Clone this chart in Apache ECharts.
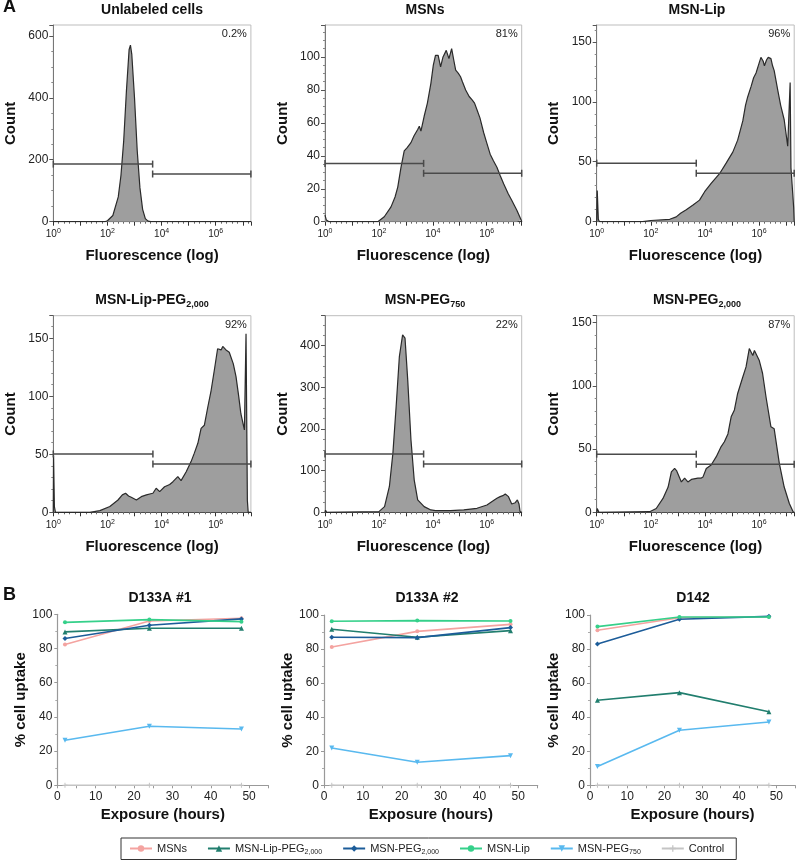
<!DOCTYPE html>
<html><head><meta charset="utf-8">
<script src="https://cdn.jsdelivr.net/npm/echarts@6/dist/echarts.min.js"></script>
<style>html,body{margin:0;padding:0;background:#fff}#c{width:798px;height:862px}</style>
</head><body><div id="c"></div><script>
const FONT = '"Liberation Sans", Arial, sans-serif';

// ---------- Panel A data: x = log10(fluorescence), y = count ----------
const histUnlabeled = [[0,0],[1.9,0],[2.0,3],[2.2,20],[2.4,80],[2.5,150],[2.6,260],[2.7,420],[2.8,555],[2.85,570],[2.9,540],[3.0,400],[3.1,230],[3.2,110],[3.3,40],[3.4,10],[3.5,2],[3.6,0],[7.3,0]];
const histMSNs = [[0,4],[0.05,1],[0.15,0],[1.96,0],[2.2,3],[2.45,9],[2.6,15],[2.7,21],[2.82,33],[2.94,43],[3.05,45],[3.19,48],[3.3,52],[3.44,56],[3.5,58],[3.56,55],[3.68,64],[3.8,72],[3.93,84],[4.02,95],[4.1,101],[4.2,101],[4.29,94],[4.38,100],[4.5,104],[4.6,99],[4.7,105],[4.78,98],[4.85,92],[4.95,90],[5.03,88],[5.1,85],[5.15,84],[5.22,80],[5.28,80],[5.35,76],[5.46,74],[5.55,72],[5.64,68],[5.75,63],[5.89,54],[6.0,48],[6.13,41],[6.25,37],[6.38,33],[6.5,28],[6.63,23],[6.8,17],[6.93,13],[7.12,7],[7.28,1],[7.3,0]];
const histLip = [[0,0],[0.02,26],[0.06,2],[0.1,0],[1.7,0],[2.0,1],[2.7,2],[2.94,4],[3.1,7],[3.31,10],[3.56,14],[3.8,18],[3.99,25],[4.23,32],[4.54,40],[4.79,49],[5.03,58],[5.21,68],[5.4,84],[5.5,97],[5.58,104],[5.71,113],[5.8,120],[5.89,124],[6.0,132],[6.07,137],[6.15,134],[6.2,130],[6.28,135],[6.34,137],[6.44,136],[6.5,130],[6.56,126],[6.69,110],[6.8,97],[6.93,85],[7.06,63],[7.13,62],[7.15,116],[7.17,116],[7.18,45],[7.28,12],[7.3,0]];
const histLipPEG2000 = [[0,0],[0.01,49],[0.04,5],[0.08,0],[1.35,0],[1.72,1.4],[2.09,5],[2.39,10.6],[2.55,15],[2.67,16.4],[2.78,14],[2.88,13],[3.07,10.6],[3.25,13.5],[3.44,15],[3.6,16],[3.68,16.4],[3.8,20.7],[3.93,17.8],[4.11,22],[4.3,24],[4.42,26.4],[4.6,30.7],[4.72,27.3],[4.91,35],[5.09,43.7],[5.21,51],[5.34,59.5],[5.46,72.4],[5.58,75],[5.71,91],[5.83,105],[5.95,122.7],[6.07,141],[6.13,142],[6.2,140],[6.26,143],[6.32,144],[6.38,140],[6.44,140],[6.5,138],[6.56,138.5],[6.65,128],[6.75,117],[6.85,100],[6.93,85],[7.06,71],[7.1,70],[7.12,154],[7.15,154],[7.17,10],[7.2,0],[7.3,0]];
const histPEG750 = [[0,0],[0.02,5],[0.06,0],[2.0,1.6],[2.21,13.6],[2.39,62],[2.52,142],[2.64,254],[2.76,374],[2.88,426],[2.93,428],[2.97,418],[3.07,318],[3.19,174],[3.31,78],[3.44,30],[3.68,13.6],[3.93,5.6],[4.1,4],[4.17,6],[4.25,4],[4.66,4],[5.15,5.6],[5.64,9.6],[6.01,17.6],[6.2,26],[6.26,30],[6.38,33.6],[6.5,37.6],[6.6,40],[6.69,44],[6.75,42],[6.81,37.6],[6.93,20],[7.06,23],[7.14,29.6],[7.2,20],[7.24,1.6],[7.3,0]];
const histPEG2000 = [[0,0],[0.02,3],[0.08,0],[1.96,0.5],[2.2,3],[2.45,11],[2.64,20],[2.76,32],[2.88,34.7],[2.95,33],[3.0,32],[3.13,24],[3.25,27],[3.37,24],[3.5,26],[3.56,27],[3.74,27],[3.85,27],[3.93,28],[4.05,34.7],[4.23,37.4],[4.42,44],[4.6,52],[4.72,55.8],[4.85,62],[4.97,75.5],[5.09,81],[5.21,94],[5.4,107],[5.52,115],[5.64,129.5],[5.7,128],[5.77,124],[5.83,128],[5.89,128],[6.01,120],[6.13,110],[6.26,91],[6.44,67.6],[6.5,67],[6.56,66],[6.75,38.7],[6.93,20],[7.12,7],[7.26,0.5],[7.3,0]];

// gates: [left gate count level, right gate count level, split position (log10)]
const gateUnlabeled = [186, 154, 3.67];
const gateMSNs = [35.4, 29.4, 3.66];
const gateLip = [48.8, 40.4, 3.68];
const gateLipPEG2000 = [50.3, 41.7, 3.68];
const gatePEG750 = [140, 116, 3.66];
const gatePEG2000 = [46, 38, 3.68];

const histTitles = ['Unlabeled cells', 'MSNs', 'MSN-Lip', 'MSN-Lip-PEG{s|2,000}', 'MSN-PEG{s|750}', 'MSN-PEG{s|2,000}'];
const pctLabels = ['0.2%', '81%', '96%', '92%', '22%', '87%'];
const histYMax = [635, 119.4, 164, 169.5, 472, 155.5];
const histYInterval = [200, 20, 50, 50, 100, 50];
const xTickExponents = [0, 2, 4, 6];

// ---------- Panel B data ----------
const lineTitles = ['D133A #1', 'D133A #2', 'D142'];
const hours = [2, 24, 48];
const seriesNames = ['MSNs', 'MSN-Lip-PEG2,000', 'MSN-PEG2,000', 'MSN-Lip', 'MSN-PEG750', 'Control'];
const uptakeMSNs = [[82.3, 96.1, 97.7], [81.2, 90.4, 94.5], [91.0, 98.4, 99.0]];
const uptakeLipPEG2000 = [[89.7, 91.8, 91.8], [91.6, 86.9, 90.8], [49.9, 54.4, 43.2]];
const uptakePEG2000 = [[85.8, 93.6, 97.3], [86.9, 86.7, 92.6], [83.0, 97.5, 99.2]];
const uptakeLip = [[95.3, 96.9, 95.7], [96.3, 96.7, 96.5], [93.2, 98.8, 98.8]];
const uptakePEG750 = [[26.3, 34.5, 32.9], [21.9, 13.5, 17.4], [11.0, 32.3, 37.2]];
const uptakeControl = [[0, 0, 0], [0, 0, 0], [0, 0, 0]];

// ---------- layout / style ----------
const histData = [histUnlabeled, histMSNs, histLip, histLipPEG2000, histPEG750, histPEG2000];
const gateData = [gateUnlabeled, gateMSNs, gateLip, gateLipPEG2000, gatePEG750, gatePEG2000];
const histGrids = [
  {left: 53.3, top: 25, width: 197.6, height: 196.7},
  {left: 325, top: 25, width: 196.7, height: 196.7},
  {left: 596.7, top: 25, width: 197.5, height: 196.7},
  {left: 53.3, top: 315.7, width: 197.6, height: 196.6},
  {left: 325, top: 315.7, width: 196.7, height: 196.6},
  {left: 596.7, top: 315.7, width: 197.5, height: 196.6}
];
const histMinorSplit = [4, 4, 5, 5, 4, 5];
const histTitlePos = [[152, 10], [425, 10], [697, 10], [152, 300], [425, 300], [697, 300]];
const lineGrids = [
  {left: 57.3, top: 614.3, width: 211, height: 171},
  {left: 324, top: 615, width: 213.7, height: 170.3},
  {left: 590, top: 615, width: 207, height: 170.3}
];
const lineTitlePos = [[160, 598], [427, 598], [693, 598]];
const uptakeAll = [uptakeMSNs, uptakeLipPEG2000, uptakePEG2000, uptakeLip, uptakePEG750, uptakeControl];
const colors = ['#f4a3a0', '#217e6e', '#1c5c99', '#35d08a', '#59b9ef', '#c4c4c4'];
const symbols = ['circle', 'triangle', 'diamond', 'circle', 'path://M0,0 L10,0 L5,10 Z',
  'path://M4,0 H6 V4 H10 V6 H6 V10 H4 V6 H0 V4 H4 Z'];
const symbolSizes = [4, 5, 5, 4, 5, 5];

const grid = [], xAxis = [], yAxis = [], series = [], graphic = [];

function richTitle(t) {
  return t.indexOf('{s|') >= 0 ? '{t|' + t.replace('{s|', '}{s|') : '{t|' + t + '}';
}

histGrids.forEach((g, i) => {
  grid.push(Object.assign({show: true, borderColor: '#bdbdbd', borderWidth: 1, backgroundColor: 'transparent'}, g));
  xAxis.push({
    type: 'value', gridIndex: i, min: 0, max: 7.3, interval: 1,
    name: 'Fluorescence (log)', nameLocation: 'middle', nameGap: 27,
    nameTextStyle: {fontFamily: FONT, fontSize: 15, fontWeight: 'bold', color: '#111'},
    axisLine: {show: true, onZero: false, lineStyle: {color: '#333', width: 1}},
    axisTick: {show: true, length: 4, lineStyle: {color: '#333'}},
    minorTick: {show: true, splitNumber: 5, length: 2, lineStyle: {color: '#666'}},
    splitLine: {show: false},
    axisLabel: {
      margin: 6, color: '#222', fontFamily: FONT,
      formatter: v => {
        const r = Math.round(v);
        if (Math.abs(v - r) > 1e-6 || xTickExponents.indexOf(r) < 0) return '';
        return '{b|10}{p|' + r + '}';
      },
      rich: {b: {fontSize: 10, lineHeight: 14, fontFamily: FONT, color: '#222'},
             p: {fontSize: 7, lineHeight: 7, verticalAlign: 'top', fontFamily: FONT, color: '#222'}}
    }
  });
  const yi = histYInterval[i];
  yAxis.push({
    type: 'value', gridIndex: i, min: 0, max: histYMax[i], interval: yi,
    name: 'Count', nameLocation: 'middle', nameGap: 35,
    nameTextStyle: {fontFamily: FONT, fontSize: 15, fontWeight: 'bold', color: '#111'},
    axisLine: {show: true, lineStyle: {color: '#777', width: 1}},
    axisTick: {show: true, length: 4, lineStyle: {color: '#555'}},
    minorTick: {show: true, splitNumber: histMinorSplit[i], length: 2, lineStyle: {color: '#888'}},
    splitLine: {show: false},
    axisLabel: {margin: 5, fontSize: 12, fontFamily: FONT, color: '#222',
      formatter: v => (Math.abs(v / yi - Math.round(v / yi)) < 1e-6 ? String(v) : '')}
  });
  series.push({
    type: 'line', name: 'hist' + i, xAxisIndex: i, yAxisIndex: i, data: histData[i],
    symbol: 'none', silent: true, z: 2,
    lineStyle: {color: '#2a2a2a', width: 1.2},
    areaStyle: {color: '#9e9e9e', opacity: 1}
  });
  const gt = gateData[i];
  [[[0, gt[0]], [gt[2], gt[0]]], [[gt[2], gt[1]], [7.3, gt[1]]]].forEach((seg, k) => {
    series.push({
      type: 'line', name: 'gate' + i + '_' + k, xAxisIndex: i, yAxisIndex: i, data: seg,
      symbol: 'rect', symbolSize: [1.5, 7], showSymbol: true, silent: true, z: 4, clip: false,
      itemStyle: {color: '#4a4a4a'}, lineStyle: {color: '#4a4a4a', width: 1.5}
    });
  });
  graphic.push({
    type: 'text', x: histTitlePos[i][0], y: histTitlePos[i][1],
    style: {text: richTitle(histTitles[i]), align: 'center', verticalAlign: 'middle',
      rich: {t: {font: 'bold 14px ' + FONT, fill: '#111', lineHeight: 18},
             s: {font: 'bold 9px ' + FONT, fill: '#111', lineHeight: 8, verticalAlign: 'bottom'}}}
  });
  graphic.push({
    type: 'text', x: g.left + g.width - 4, y: g.top + 9,
    style: {text: pctLabels[i], font: '11px ' + FONT, fill: '#222', align: 'right', verticalAlign: 'middle'}
  });
});

lineGrids.forEach((g, j) => {
  const gi = histGrids.length + j;
  grid.push(Object.assign({show: false}, g));
  xAxis.push({
    type: 'value', gridIndex: gi, min: 0, max: 55, interval: 5,
    name: 'Exposure (hours)', nameLocation: 'middle', nameGap: 22,
    nameTextStyle: {fontFamily: FONT, fontSize: 15, fontWeight: 'bold', color: '#111'},
    axisLine: {show: true, onZero: false, lineStyle: {color: '#999', width: 1.2}},
    axisTick: {show: true, length: 3, lineStyle: {color: '#999'}},
    splitLine: {show: false},
    axisLabel: {margin: 5, fontSize: 12, fontFamily: FONT, color: '#222',
      formatter: v => (v % 10 === 0 ? String(v) : '')}
  });
  yAxis.push({
    type: 'value', gridIndex: gi, min: 0, max: 100, interval: 20,
    name: '% cell uptake', nameLocation: 'middle', nameGap: 25,
    nameTextStyle: {fontFamily: FONT, fontSize: 15, fontWeight: 'bold', color: '#111'},
    axisLine: {show: true, lineStyle: {color: '#999', width: 1.2}},
    axisTick: {show: true, length: 3, lineStyle: {color: '#999'}},
    minorTick: {show: true, splitNumber: 2, length: 2, lineStyle: {color: '#aaa'}},
    splitLine: {show: false},
    axisLabel: {margin: 5, fontSize: 12, fontFamily: FONT, color: '#222'}
  });
  seriesNames.forEach((nm, k) => {
    series.push({
      type: 'line', name: nm, xAxisIndex: gi, yAxisIndex: gi,
      data: hours.map((h, t) => [h, uptakeAll[k][j][t]]),
      symbol: symbols[k], symbolSize: symbolSizes[k], showSymbol: true, clip: false,
      z: 5 + (k === 5 ? -1 : k),
      itemStyle: {color: colors[k]}, lineStyle: {color: colors[k], width: 1.6}
    });
  });
  graphic.push({
    type: 'text', x: lineTitlePos[j][0], y: lineTitlePos[j][1],
    style: {text: lineTitles[j], font: 'bold 14px ' + FONT, fill: '#111', align: 'center', verticalAlign: 'middle'}
  });
});

graphic.push({type: 'text', x: 3, y: 7, style: {text: 'A', font: 'bold 18px ' + FONT, fill: '#111', align: 'left', verticalAlign: 'middle'}});
graphic.push({type: 'text', x: 3, y: 595, style: {text: 'B', font: 'bold 18px ' + FONT, fill: '#111', align: 'left', verticalAlign: 'middle'}});

const legendLabel = {
  'MSN-Lip-PEG2,000': '{n|MSN-Lip-PEG}{s|2,000}',
  'MSN-PEG2,000': '{n|MSN-PEG}{s|2,000}',
  'MSN-PEG750': '{n|MSN-PEG}{s|750}'
};

const chart = echarts.init(document.getElementById('c'), null, {renderer: 'canvas'});
chart.setOption({
  animation: false,
  backgroundColor: '#fff',
  grid, xAxis, yAxis, series, graphic,
  legend: {
    data: seriesNames, left: 121, top: 838, orient: 'horizontal',
    borderColor: '#333', borderWidth: 1, borderRadius: 0,
    padding: [5, 12, 4, 8], itemGap: 20, itemWidth: 22, itemHeight: 8,
    textStyle: {fontFamily: FONT, fontSize: 11, color: '#222',
      rich: {n: {fontFamily: FONT, fontSize: 11, lineHeight: 14, color: '#222'},
             s: {fontFamily: FONT, fontSize: 7, lineHeight: 6, verticalAlign: 'bottom', color: '#222'}}},
    formatter: nm => legendLabel[nm] || ('{n|' + nm + '}')
  }
});
</script></body></html>
